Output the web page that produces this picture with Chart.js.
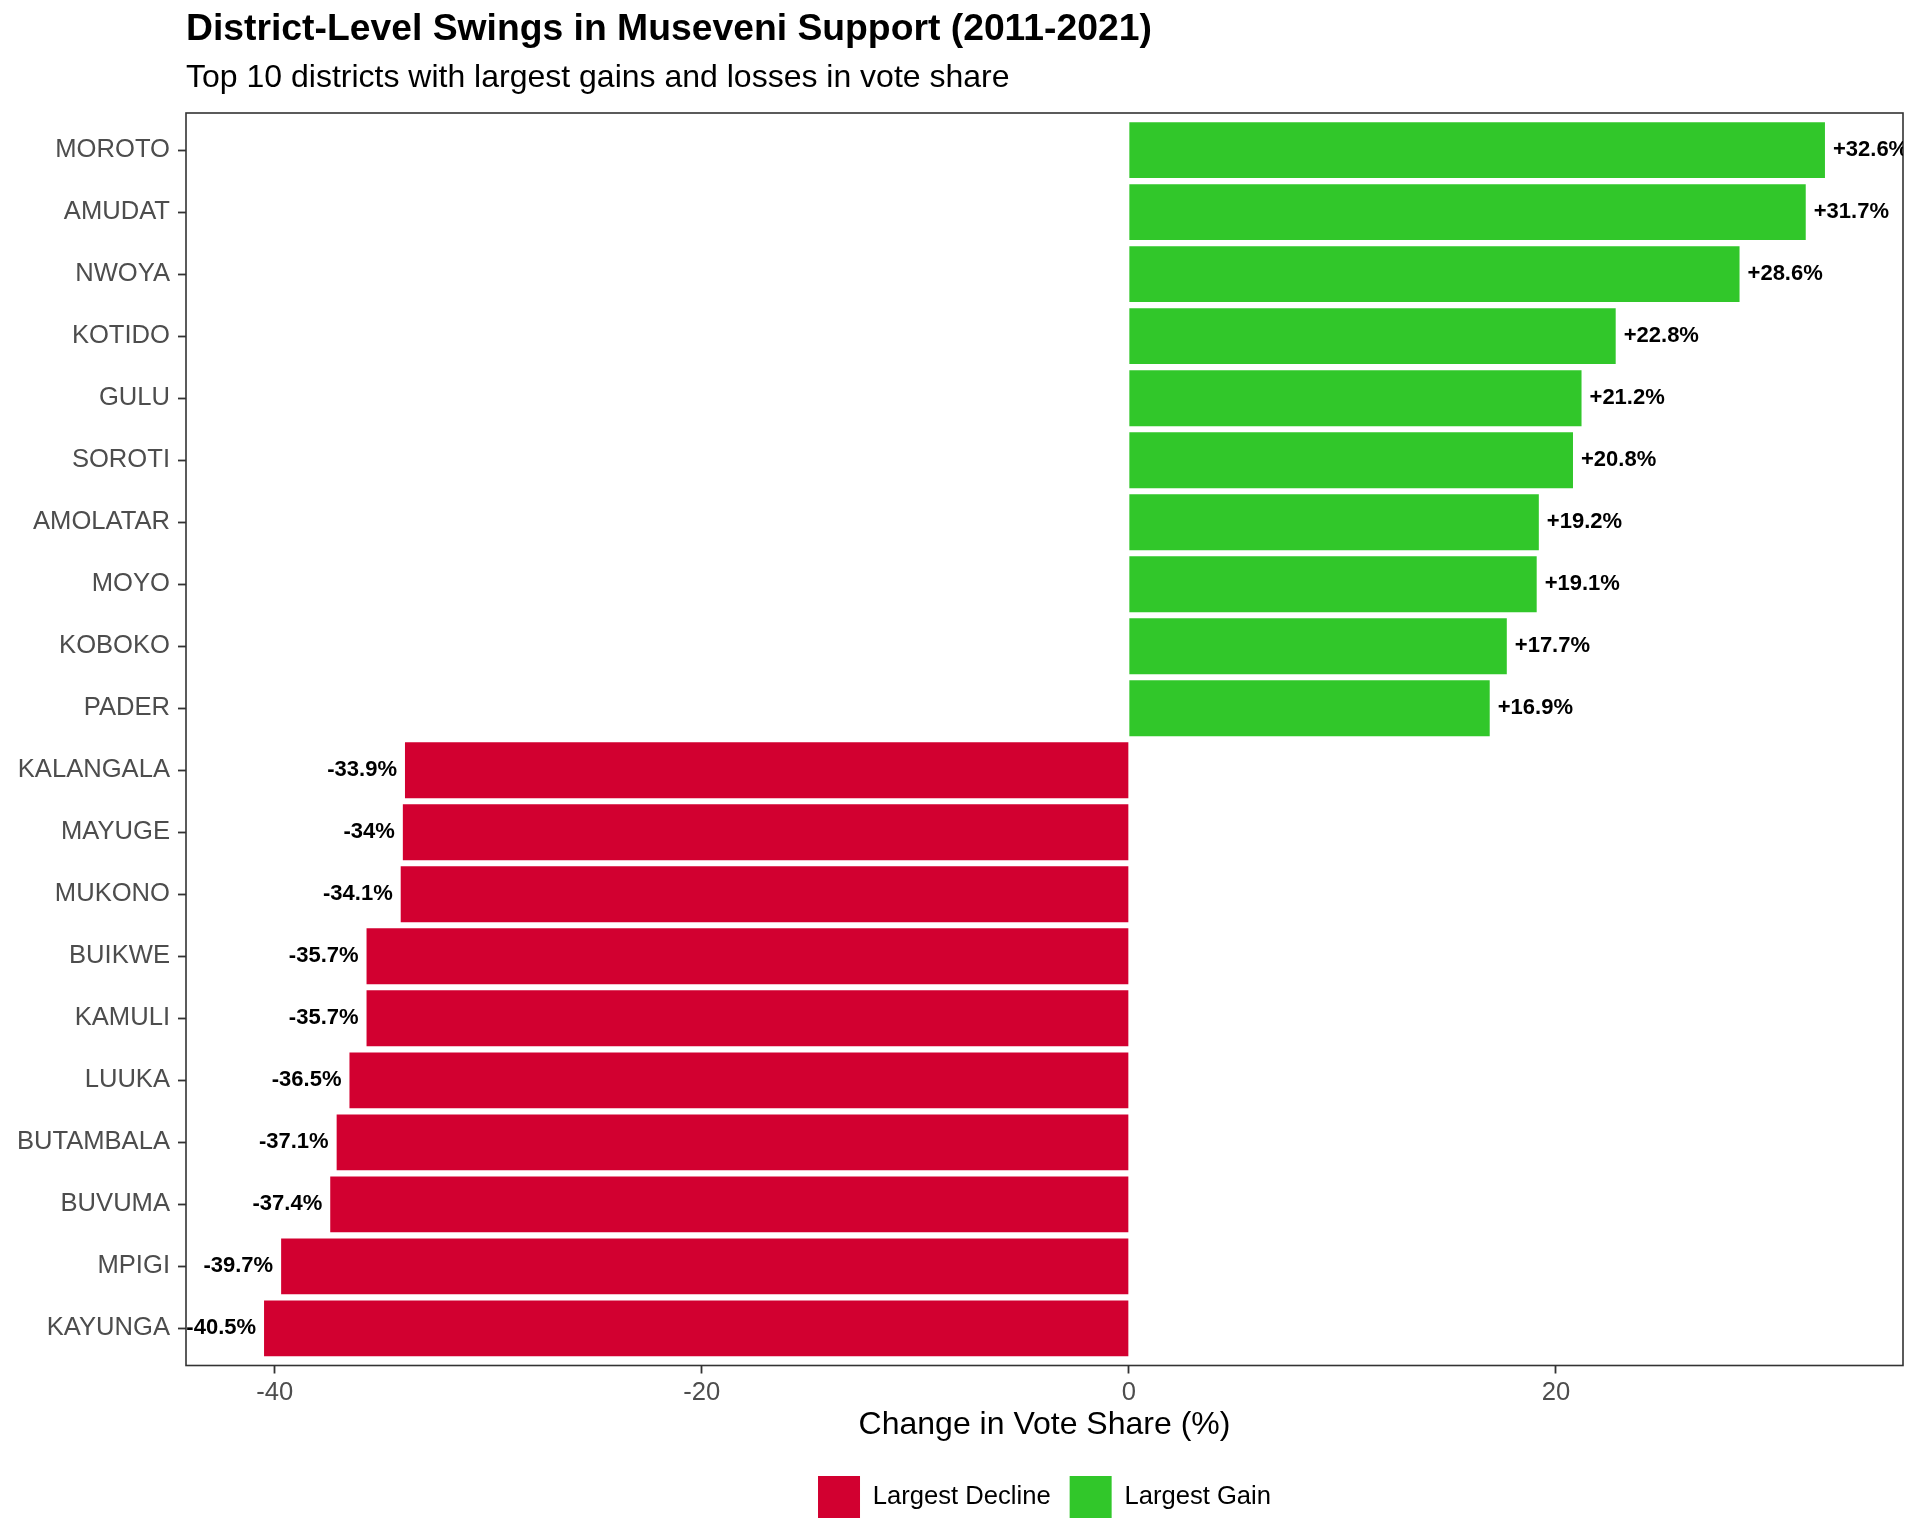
<!DOCTYPE html>
<html><head><meta charset="utf-8">
<script src="https://cdn.jsdelivr.net/npm/chart.js@4.4.1/dist/chart.umd.min.js"></script>
<style>html,body{margin:0;padding:0;background:#fff}#wrap{width:1920px;height:1536px;position:relative}</style>
</head><body><div id="wrap"><canvas id="c"></canvas></div>
<script>
const districts = ['MOROTO','AMUDAT','NWOYA','KOTIDO','GULU','SOROTI','AMOLATAR','MOYO','KOBOKO','PADER',
  'KALANGALA','MAYUGE','MUKONO','BUIKWE','KAMULI','LUUKA','BUTAMBALA','BUVUMA','MPIGI','KAYUNGA'];
const changes = [32.6, 31.7, 28.6, 22.8, 21.2, 20.8, 19.2, 19.1, 17.7, 16.9,
  -33.9, -34, -34.1, -35.7, -35.7, -36.5, -37.1, -37.4, -39.7, -40.5];
const xTicks = [-40, -20, 0, 20];
const seriesNames = ['Largest Decline', 'Largest Gain'];
const seriesColors = ['#D20030', '#31C72A'];

Chart.defaults.font.family = '"Liberation Sans", Arial, Helvetica, sans-serif';

const dataMin = Math.min(0, ...changes), dataMax = Math.max(0, ...changes);
const pad = (dataMax - dataMin) * 0.05;

const framePlugin = {
  id: 'frame',
  afterDatasetsDraw(chart) {
    const {ctx, chartArea: a} = chart;
    ctx.save();
    ctx.strokeStyle = '#333333';
    ctx.lineWidth = 1.6;
    ctx.strokeRect(a.left, a.top, a.right - a.left, a.bottom - a.top);
    ctx.restore();
  }
};

const labelPlugin = {
  id: 'barLabels',
  afterDatasetsDraw(chart) {
    const {ctx, chartArea: a} = chart;
    const meta = chart.getDatasetMeta(0);
    ctx.save();
    ctx.beginPath();
    ctx.rect(a.left, a.top, a.right - a.left, a.bottom - a.top);
    ctx.clip();
    ctx.font = 'bold 22px "Liberation Sans", Arial, sans-serif';
    ctx.fillStyle = '#000';
    ctx.textBaseline = 'middle';
    meta.data.forEach((bar, i) => {
      const v = changes[i];
      const txt = (v > 0 ? '+' : '') + String(v) + '%';
      if (v >= 0) { ctx.textAlign = 'left'; ctx.fillText(txt, bar.x + 8, bar.y); }
      else { ctx.textAlign = 'right'; ctx.fillText(txt, bar.x - 8, bar.y); }
    });
    ctx.restore();
  }
};

new Chart(document.getElementById('c'), {
  type: 'bar',
  data: {
    datasets: [{
      label: 'Change in Vote Share',
      data: changes.map((v, i) => ({x: v, y: i})),
      backgroundColor: changes.map(v => v < 0 ? seriesColors[0] : seriesColors[1]),
      borderWidth: 0,
      barPercentage: 0.9,
      categoryPercentage: 1.0
    }]
  },
  options: {
    indexAxis: 'y',
    responsive: true,
    maintainAspectRatio: false,
    animation: false,
    devicePixelRatio: 1,
    layout: {padding: {top: 0, right: 17, bottom: 8, left: 0}},
    scales: {
      x: {
        type: 'linear',
        min: dataMin - pad,
        max: dataMax + pad,
        offset: false,
        afterBuildTicks: s => { s.ticks = xTicks.map(v => ({value: v})); },
        afterFit: s => { s.height = 91.5; },
        border: {display: false},
        grid: {display: true, offset: false, drawOnChartArea: false, drawTicks: true, tickLength: 8, tickColor: '#333333', tickWidth: 1.8},
        ticks: {color: '#4D4D4D', font: {size: 25.6, lineHeight: 1.2}, padding: 4.5, autoSkip: false, maxRotation: 0},
        title: {display: true, text: 'Change in Vote Share (%)', color: '#000', font: {size: 32, lineHeight: 1}, padding: {top: 0, bottom: 16}}
      },
      y: {
        type: 'linear',
        reverse: true,
        offset: false,
        min: -0.6,
        max: districts.length - 0.4,
        afterBuildTicks: s => { s.ticks = districts.map((d, i) => ({value: i})); },
        afterFit: s => { s.width = 186; },
        border: {display: false},
        grid: {display: true, offset: false, drawOnChartArea: false, drawTicks: true, tickLength: 8, tickColor: '#333333', tickWidth: 1.8},
        ticks: {color: '#4D4D4D', font: {size: 25.6}, padding: 8, autoSkip: false,
          callback: v => districts[v]}
      }
    },
    plugins: {
      title: {display: true, text: 'District-Level Swings in Museveni Support (2011-2021)', align: 'start', fullSize: false,
        color: '#000', font: {size: 37.3, weight: 'bold', lineHeight: 1}, padding: {top: 11.4, bottom: 0}},
      subtitle: {display: true, text: 'Top 10 districts with largest gains and losses in vote share', align: 'start', fullSize: false,
        color: '#000', font: {size: 32, lineHeight: 1}, padding: {top: 13.7, bottom: 18.6}},
      legend: {
        display: true, position: 'bottom', fullSize: false,
        labels: {
          boxWidth: 42, boxHeight: 42, padding: 19, color: '#000', font: {size: 25.6},
          generateLabels: () => seriesNames.map((n, i) => ({text: n, fillStyle: seriesColors[i], strokeStyle: 'rgba(0,0,0,0)', lineWidth: 0, hidden: false, datasetIndex: 0}))
        }
      },
      tooltip: {enabled: false}
    }
  },
  plugins: [framePlugin, labelPlugin]
});
</script>
</body></html>
